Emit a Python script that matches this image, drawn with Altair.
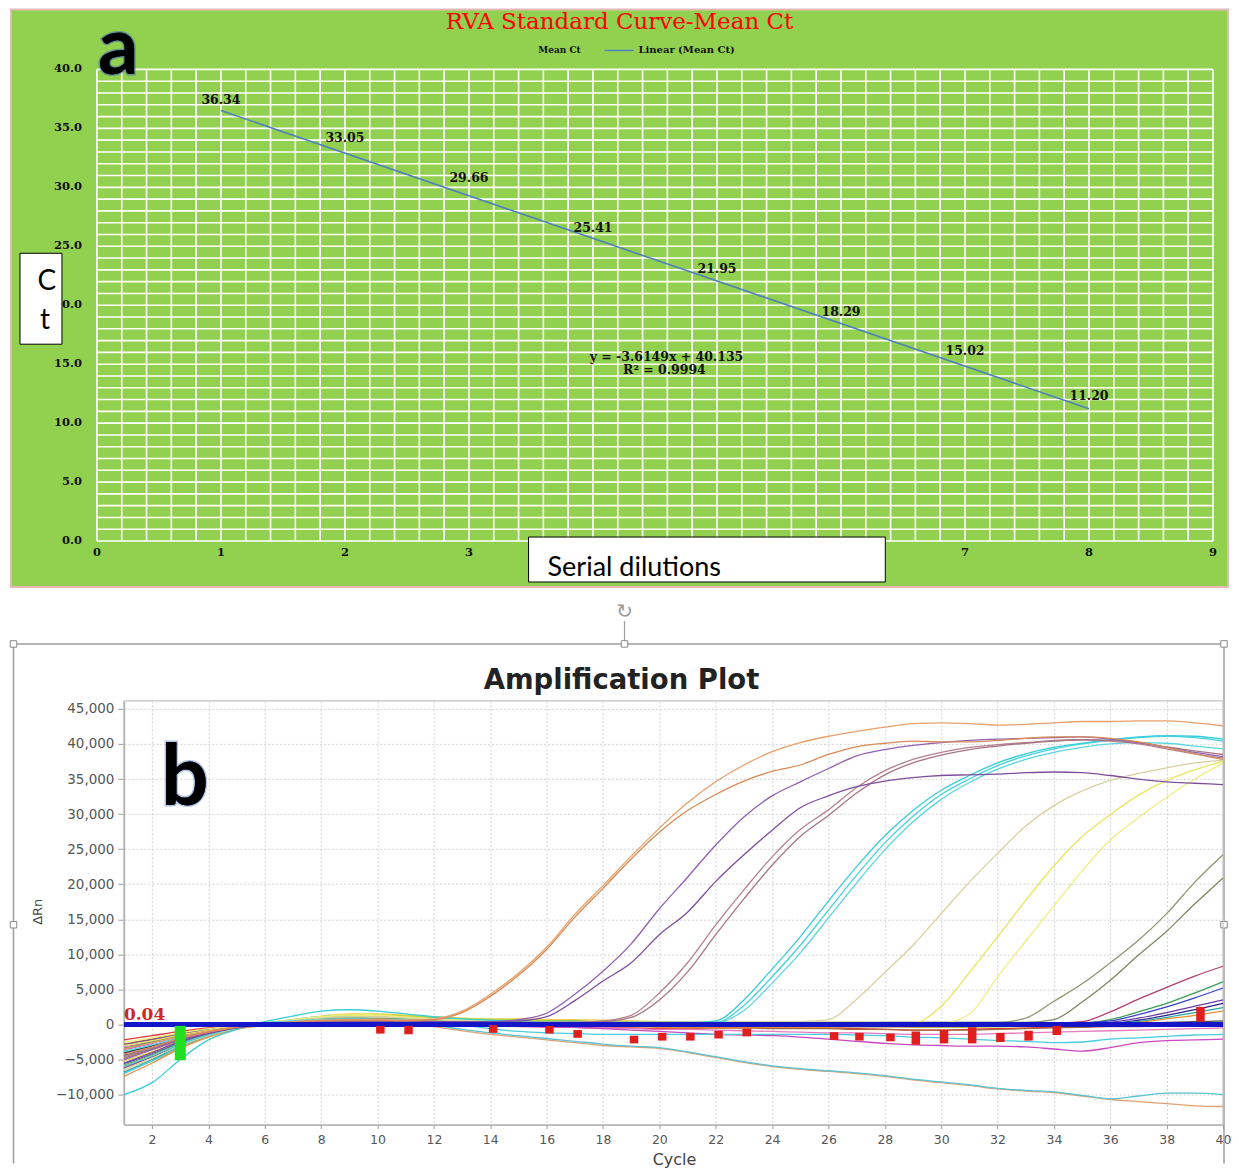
import altair as alt
import pandas as pd

# ======================= Panel a data =======================
DILUTIONS = [1, 2, 3, 4, 5, 6, 7, 8]
MEAN_CT = [36.34, 33.05, 29.66, 25.41, 21.95, 18.29, 15.02, 11.20]
CT_LABELS = ["36.34", "33.05", "29.66", "25.41", "21.95", "18.29", "15.02", "11.20"]
# x tick labels 4, 5 and 6 sit under the "Serial dilutions" box in the original
A_XTICKS = [0, 1, 2, 3, 7, 8, 9]
A_XTICK_LABELS = ["0", "1", "2", "3", "7", "8", "9"]
A_YTICKS = [0, 5, 10, 15, 20, 25, 30, 35, 40]
A_YTICK_LABELS = ["0.0", "5.0", "10.0", "15.0", "20.0", "25.0", "30.0", "35.0", "40.0"]
A_TITLE = "RVA Standard Curve-Mean Ct"
EQUATION = "y = -3.6149x + 40.135"
R_SQUARED = "R² = 0.9994"
LEGEND_1 = "Mean Ct"
LEGEND_2 = "Linear (Mean Ct)"

# ======================= Panel b data =======================
CYCLES = list(range(1, 41))
B_XTICKS = [2, 4, 6, 8, 10, 12, 14, 16, 18, 20, 22, 24, 26, 28, 30, 32, 34, 36, 38, 40]
B_YTICKS = [-10000, -5000, 0, 5000, 10000, 15000, 20000, 25000, 30000, 35000, 40000, 45000]

O1 = [-3500,-2600,-1700,-900,-300,100,400,600,700,700,
      600,800,1900,4300,7300,11000,15700,19800,24000,28000,
      31600,34600,37000,38900,40200,41100,41800,42400,42900,43000,
      42900,42700,42800,43000,43200,43200,43300,43300,43000,42600]
O2 = [-4200,-3200,-2000,-1100,-400,0,300,500,600,600,
      500,700,1700,4000,7000,10700,15300,19400,23600,27400,
      30500,32800,34700,36100,37000,38500,39600,40100,40400,40300,
      40300,40500,40800,41000,41000,40800,40300,39500,38600,37800]
P1 = [-5000,-3600,-2200,-1200,-500,0,300,500,600,500,
      400,400,400,400,700,1600,4300,7600,11500,16500,
      21000,25600,29600,32600,34600,36500,38300,39200,39800,40200,
      40500,40700,40800,40900,41000,40700,40200,39500,38800,38200]
P2 = [-5500,-4000,-2400,-1300,-500,0,300,500,500,500,
      400,400,400,400,500,1100,3400,6200,8800,12800,
      16000,20400,24200,27700,30900,32600,33900,34700,35200,35500,
      35600,35700,35900,36000,35900,35500,35000,34600,34400,34200]
B1 = [-4500,-3300,-2000,-1000,-400,0,200,400,500,500,
      400,300,300,300,300,300,300,500,1300,4500,
      8800,14200,19200,23900,27800,30600,33800,36200,37800,38800,
      39500,39900,40200,40500,40600,40400,40000,39300,38600,38000]
B2 = [-4800,-3500,-2100,-1100,-400,0,200,300,400,400,
      300,300,300,300,300,300,300,400,1000,3500,
      7500,12800,17900,22700,26800,29800,33000,35600,37300,38400,
      39200,39700,40100,40400,40600,40500,40200,39600,39000,38500]
C1 = [-10000,-8300,-5000,-2200,-700,400,1200,1900,2100,1900,
      1500,1100,800,600,400,300,300,200,200,200,
      200,500,3500,7900,12500,17600,22500,26900,30500,33400,
      35500,37300,38600,39500,40100,40600,41000,41200,41100,40700]
C2 = [-6000,-4500,-2800,-1500,-500,200,500,700,700,600,
      500,400,300,300,300,300,300,300,300,300,
      300,300,2700,6800,11300,16300,21300,25900,29700,32800,
      35000,36900,38300,39300,40000,40500,40900,41100,40900,40400]
C3 = [-3800,-2900,-1900,-1000,-300,200,500,700,800,700,
      600,400,300,300,200,200,200,200,200,200,
      200,200,2000,5900,10200,15200,20200,24900,28900,32100,
      34500,36400,37800,38800,39500,40000,40200,40100,39700,39300]
K1 = [-6500,-4800,-3000,-1600,-600,100,500,900,1100,1100,
      900,700,500,400,400,300,300,300,300,300,
      300,300,300,300,400,700,3600,7400,11300,15800,
      20300,24400,28300,31200,33300,34800,35800,36600,37300,37700]
Y1 = [-3000,-2300,-1500,-800,-200,200,600,1000,1300,1300,
      1100,800,600,500,400,400,300,300,300,300,
      300,300,300,300,300,300,300,200,200,2600,
      7400,12500,17700,22600,26800,29900,32700,34800,36300,37500]
Y2 = [-2500,-1900,-1200,-600,-100,300,700,1100,1400,1300,
      1000,800,600,500,400,400,300,300,300,300,
      300,300,300,300,300,300,300,300,200,200,
      1500,6800,11900,16900,21900,26300,29500,32400,35000,37300]
G1 = [-5800,-4300,-2700,-1400,-500,100,400,700,800,700,
      600,500,400,300,300,300,300,300,300,300,
      300,300,300,300,300,300,300,300,300,300,
      300,300,900,3300,5800,8800,12000,15800,20300,24200]
G2 = [-4600,-3400,-2100,-1100,-400,100,400,600,700,600,
      500,400,300,300,300,300,300,300,300,300,
      300,300,300,300,300,300,300,300,300,300,
      300,300,300,700,3200,6300,9900,13300,17200,20900]
L1 = [-6200,-4600,-2800,-1400,-500,0,300,500,600,500,
      400,300,200,200,200,100,100,100,100,100,
      100,100,100,100,100,100,100,100,100,100,
      100,100,100,200,400,1800,3600,5300,6900,8300]
L2 = [-3400,-2500,-1600,-800,-200,200,500,800,900,800,
      600,400,300,200,200,100,100,100,100,100,
      100,100,100,100,100,100,100,100,100,100,
      100,100,100,100,200,700,1800,3000,4500,6100]
L3 = [-5600,-4200,-2600,-1300,-500,0,400,600,700,700,
      500,400,300,200,100,100,0,0,0,0,
      0,0,0,0,0,0,0,0,0,0,
      0,0,0,100,200,500,1400,2500,3800,5200]
L4 = [-2900,-2200,-1400,-700,-200,100,300,500,500,400,
      300,200,100,100,0,0,0,0,0,0,
      0,0,0,0,0,0,0,0,0,0,
      0,0,0,0,100,300,900,1700,2600,3500]
L5 = [-4100,-3100,-1900,-1000,-300,100,400,500,600,500,
      400,300,200,100,100,0,0,0,0,0,
      0,0,0,0,0,0,0,0,0,0,
      0,0,0,0,0,100,600,1300,2100,3000]
L6 = [-6800,-5000,-3100,-1600,-600,0,400,700,900,900,
      800,600,500,400,300,200,200,100,100,100,
      0,0,0,0,0,0,0,0,0,0,
      0,0,0,100,100,200,400,1000,1700,2400]
L7 = [-7400,-5500,-3400,-1800,-700,-100,300,600,800,800,
      700,500,300,200,100,0,-100,-200,-300,-400,
      -500,-500,-500,-400,-400,-400,-300,-300,-300,-200,
      -200,-100,0,0,100,100,300,800,1300,1900]
BL1 = [-2200,-1600,-1000,-500,-200,0,200,300,400,400,
       300,200,100,0,-200,-300,-400,-500,-500,-600,
       -600,-500,-500,-400,-400,-500,-600,-700,-800,-800,
       -700,-600,-500,-400,-300,-200,-100,0,100,200]
BL2 = [-4000,-3000,-1900,-1000,-300,200,600,1000,1200,1300,
       1200,1000,800,700,600,500,500,400,400,300,
       300,200,200,100,100,0,0,-100,-200,-200,
       -300,-300,-200,-100,0,0,100,100,200,300]
BL3 = [-5200,-3900,-2500,-1300,-400,200,700,1200,1500,1500,
       1300,1100,900,800,800,700,700,600,500,400,
       300,200,100,0,-100,-200,-300,-300,-400,-400,
       -400,-300,-300,-200,-100,0,0,100,100,200]
BL4 = [-3200,-2400,-1500,-800,-200,100,300,500,600,500,
       400,200,0,-200,-300,-400,-400,-500,-600,-700,
       -700,-800,-900,-1000,-1100,-1200,-1200,-1300,-1400,-1400,
       -1400,-1300,-1200,-1100,-1000,-900,-800,-700,-600,-500]
BL5 = [-3600,-2700,-1700,-900,-300,100,300,500,600,500,
       400,200,0,-100,-200,-300,-400,-600,-800,-1000,
       -1200,-1400,-1500,-1600,-1800,-2100,-2400,-2700,-2900,-3000,
       -3100,-3100,-3200,-3500,-3800,-3300,-2600,-2300,-2200,-2100]
BL6 = [-7000,-5200,-3300,-1700,-600,100,700,1100,1300,1200,
       900,500,-100,-600,-1000,-1200,-1300,-1400,-1400,-1400,
       -1400,-1400,-1400,-1400,-1400,-1400,-1500,-1600,-1800,-1900,
       -2100,-2300,-2400,-2600,-2500,-2100,-1900,-1700,-1500,-1400]
BL7 = [-4400,-3300,-2100,-1100,-400,0,300,400,500,500,
       400,300,200,100,100,0,0,0,-100,-100,
       -100,-200,-200,-200,-200,-300,-300,-300,-300,-300,
       -300,-200,-200,-100,0,100,200,300,400,500]
BL8 = [-6000,-4500,-2900,-1500,-600,0,500,900,1200,1300,
       1200,1000,800,700,600,500,400,300,200,200,
       100,100,0,0,-100,-100,-200,-200,-200,-300,
       -300,-300,-200,-200,-100,-100,0,0,100,100]
BL9 = [-2800,-2100,-1300,-700,-200,100,300,400,400,400,
       300,200,100,100,0,0,-100,-100,-200,-300,
       -400,-500,-500,-600,-600,-600,-700,-700,-800,-800,
       -800,-700,-600,-500,-400,-300,-300,-200,-200,-100]
D1 = [-4800,-3600,-2300,-1200,-400,100,500,700,700,500,
      200,-300,-900,-1400,-1800,-2200,-2600,-3000,-3200,-3400,
      -4000,-4700,-5400,-6000,-6400,-6700,-7000,-7400,-7900,-8300,
      -8700,-9200,-9500,-9700,-10200,-10700,-11000,-11300,-11600,-11700]
D2 = [-6200,-4600,-2900,-1500,-500,100,600,900,1000,800,
      400,-100,-700,-1200,-1600,-2000,-2400,-2800,-3100,-3300,
      -3900,-4600,-5300,-5900,-6300,-6600,-6900,-7300,-7800,-8200,
      -8600,-9100,-9400,-9600,-10100,-10600,-10200,-9800,-9800,-10000]

CURVES = {
    "BL1": BL1, "BL2": BL2, "BL3": BL3, "BL4": BL4, "BL5": BL5, "BL6": BL6,
    "BL7": BL7, "BL8": BL8, "BL9": BL9, "D1": D1, "D2": D2,
    "L1": L1, "L2": L2, "L3": L3, "L4": L4, "L5": L5, "L6": L6, "L7": L7,
    "G1": G1, "G2": G2, "Y1": Y1, "Y2": Y2, "K1": K1,
    "C1": C1, "C2": C2, "C3": C3, "B1": B1, "B2": B2,
    "P1": P1, "P2": P2, "O1": O1, "O2": O2,
}
CURVE_COLORS = {
    "BL1": "#E03838", "BL2": "#38B040", "BL3": "#E8D040", "BL4": "#E878C0",
    "BL5": "#C848C0", "BL6": "#48CCE0", "BL7": "#505050", "BL8": "#A8D848",
    "BL9": "#A86840", "D1": "#E0A070", "D2": "#58C4D4",
    "L1": "#B04070", "L2": "#3C9C58", "L3": "#3A44CC", "L4": "#6C3CA8",
    "L5": "#24248C", "L6": "#2AA8A0", "L7": "#E89038",
    "G1": "#8C9870", "G2": "#7C8A62", "Y1": "#E6E65C", "Y2": "#EEEE80",
    "K1": "#D8D0A0", "C1": "#38CCD8", "C2": "#45D2DC", "C3": "#5AD6E0",
    "B1": "#B48090", "B2": "#A87585", "P1": "#9060B0", "P2": "#7D4E9C",
    "O1": "#E8A06A", "O2": "#D98B56",
}
THRESHOLD = [0]
THRESHOLD_LABEL = "0.04"
MARK_CYCLE = [10.1, 11.1, 14.1, 16.1, 17.1, 19.1, 20.1, 21.1, 22.1, 23.1,
              26.2, 27.1, 28.2, 29.1, 30.1, 31.1, 32.1, 33.1, 34.1, 39.2]
MARK_LO = [-1300, -1400, -1200, -1300, -1900, -2700, -2300, -2300, -2000, -1700,
           -2200, -2300, -2400, -2900, -2700, -2700, -2500, -2300, -1500, 400]
MARK_HI = [-200, -200, -100, -200, -800, -1600, -1200, -1200, -900, -600,
           -1100, -1200, -1300, -1000, -800, -400, -1200, -900, -200, 2500]
BASE_CYCLE = [3]
BASE_LO = [-5100]
BASE_HI = [-200]
B_TITLE = "Amplification Plot"

# ======================= layout (page pixels) =======================
A_X0_PAGE, A_X9_PAGE = 95, 1212        # where Serial dilution 0 and 9 fall
A_TOP, A_BOTTOM = 69, 541
B_LEFT, B_RIGHT, B_TOP, B_BOTTOM = 122, 1222, 701, 1125
A_LEFT = B_LEFT                         # both plots share the same left edge
A_UNIT = (A_X9_PAGE - A_X0_PAGE) / 9.0
A_DOMAIN_START = (A_LEFT - A_X0_PAGE) / A_UNIT

ONE = pd.DataFrame({"k": [0]})


def ax(p):
    return p - A_LEFT


def ay(p):
    return p - A_TOP


def bx(p):
    return p - B_LEFT


def by(p):
    return p - B_TOP


def txt(text, x, y, **kw):
    return alt.Chart(ONE).mark_text(text=text, **kw).encode(x=alt.value(x), y=alt.value(y))


def box(x1, x2, y1, y2, **kw):
    return alt.Chart(ONE).mark_rect(**kw).encode(
        x=alt.value(x1), x2=alt.value(x2), y=alt.value(y1), y2=alt.value(y2))


def seg(x1, x2, y1, y2, **kw):
    return alt.Chart(ONE).mark_rule(**kw).encode(
        x=alt.value(x1), x2=alt.value(x2), y=alt.value(y1), y2=alt.value(y2))


def handle(x, y):
    return alt.Chart(ONE).mark_square(size=42, fill="white", stroke="#8a8a8a",
                                      strokeWidth=1, opacity=1).encode(
        x=alt.value(x), y=alt.value(y))


# ======================= Panel a =======================
WA, HA = A_X9_PAGE - A_LEFT, A_BOTTOM - A_TOP
XS_A = alt.Scale(domain=[A_DOMAIN_START, 9], nice=False, zero=False)
YS_A = alt.Scale(domain=[0, 40], nice=False, zero=False)

df_a = pd.DataFrame({"dilution": DILUTIONS, "ct": MEAN_CT, "label": CT_LABELS})
grid_x = pd.DataFrame({"gx": [i / 5 for i in range(46)]})
grid_y = pd.DataFrame({"gy": list(range(41))})
ytick_a = pd.DataFrame({"v": A_YTICKS, "lab": A_YTICK_LABELS})
xtick_a = pd.DataFrame({"v": A_XTICKS, "lab": A_XTICK_LABELS})

GREEN = "#92D050"
SERIF = "DejaVu Serif"
INK = "#111"

a_layers = [
    box(ax(9), ax(1227), ay(9), ay(587), fill=GREEN, stroke="#E6B8B7", strokeWidth=2),
    alt.Chart(grid_x).mark_rule(color="white", strokeWidth=1.6).encode(
        x=alt.X("gx:Q", scale=XS_A, axis=None),
        y=alt.value(0), y2=alt.value(HA)),
    alt.Chart(grid_y).mark_rule(color="white", strokeWidth=1.6).encode(
        y=alt.Y("gy:Q", scale=YS_A, axis=None),
        x=alt.value(ax(A_X0_PAGE)), x2=alt.value(WA)),
    alt.Chart(df_a).transform_regression("dilution", "ct").mark_line(
        color="#4F81BD", strokeWidth=1.6).encode(
        x=alt.X("dilution:Q", scale=XS_A, axis=None),
        y=alt.Y("ct:Q", scale=YS_A, axis=None)),
    alt.Chart(df_a).mark_text(dy=-13, font=SERIF, fontWeight="bold", fontSize=12.5,
                              color=INK).encode(
        x=alt.X("dilution:Q", scale=XS_A, axis=None),
        y=alt.Y("ct:Q", scale=YS_A, axis=None),
        text="label:N"),
    alt.Chart(ytick_a).mark_text(align="right", baseline="middle", font=SERIF,
                                 fontWeight="bold", fontSize=11.5, color=INK).encode(
        y=alt.Y("v:Q", scale=YS_A, axis=None), x=alt.value(ax(80)), text="lab:N"),
    alt.Chart(xtick_a).mark_text(align="center", baseline="middle", font=SERIF,
                                 fontWeight="bold", fontSize=11.5, color=INK).encode(
        x=alt.X("v:Q", scale=XS_A, axis=None), y=alt.value(ay(553)), text="lab:N"),
    txt(EQUATION, ax(665), ay(357), font=SERIF, fontWeight="bold", fontSize=12.5,
        color=INK, align="center", baseline="middle"),
    txt(R_SQUARED, ax(663), ay(370), font=SERIF, fontWeight="bold", fontSize=12.5,
        color=INK, align="center", baseline="middle"),
    txt(A_TITLE, ax(618), ay(22), font=SERIF, fontSize=23, color="#FF0000",
        align="center", baseline="middle"),
    txt(LEGEND_1, ax(558), ay(50), font=SERIF, fontWeight="bold", fontSize=9,
        color=INK, align="center", baseline="middle"),
    seg(ax(603), ax(632), ay(50), ay(50), color="#4F81BD", strokeWidth=1.5),
    txt(LEGEND_2, ax(637), ay(50), font=SERIF, fontWeight="bold", fontSize=10,
        color=INK, align="left", baseline="middle"),
    txt("a", ax(96), ay(11), font="Lato", fontWeight="bold", fontSize=80, color="#000",
        stroke="#3A66C0", strokeWidth=3, strokeOpacity=0.55,
        align="left", baseline="top"),
    txt("a", ax(96), ay(11), font="Lato", fontWeight="bold", fontSize=80, color="#000",
        align="left", baseline="top"),
    box(ax(18), ax(60), ay(253), ay(344), fill="white", stroke="black", strokeWidth=1),
    txt("C", ax(45), ay(282), font="Lato", fontSize=28, color="#000",
        align="center", baseline="middle"),
    txt("t", ax(43), ay(321), font="Lato", fontSize=28, color="#000",
        align="center", baseline="middle"),
    box(ax(527), ax(884), ay(537), ay(582), fill="white", stroke="black", strokeWidth=1),
    txt("Serial dilutions", ax(546), ay(576), font="Lato", fontSize=27, color="#000",
        align="left", baseline="alphabetic"),
]
panel_a = alt.layer(*a_layers).properties(width=WA, height=HA)

# ======================= Panel b =======================
WB, HB = B_RIGHT - B_LEFT, B_BOTTOM - B_TOP
XS_B = alt.Scale(domain=[1, 40], nice=False, zero=False)
YS_B = alt.Scale(domain=[-14275, 46140], nice=False, zero=False)

AX_BX = alt.Axis(values=B_XTICKS, title=None, grid=True, gridDash=[2, 2],
                 gridColor="#d2d2d2", domain=True, domainColor="#9a9a9a",
                 domainWidth=1.5, ticks=True, tickColor="#9a9a9a", tickSize=4,
                 labelColor="#555", labelFont="DejaVu Sans", labelFontSize=12.5,
                 labelPadding=5, labelFlush=False)
AX_BY = alt.Axis(values=B_YTICKS, format=",.0f", title=None, grid=True,
                 gridDash=[2, 2], gridColor="#d2d2d2", domain=True,
                 domainColor="#9a9a9a", domainWidth=1.5, ticks=True,
                 tickColor="#9a9a9a", tickSize=6, labelColor="#555",
                 labelFont="DejaVu Sans", labelFontSize=13.5, labelPadding=4,
                 labelFlush=False)

order = list(CURVES.keys())
rows = []
for name in order:
    for c, v in zip(CYCLES, CURVES[name]):
        rows.append({"curve": name, "cycle": c, "drn": v})
df_b = pd.DataFrame(rows)
df_thr = pd.DataFrame({"t": THRESHOLD})
df_mark = pd.DataFrame({"c": MARK_CYCLE, "lo": MARK_LO, "hi": MARK_HI})
df_base = pd.DataFrame({"c": BASE_CYCLE, "lo": BASE_LO, "hi": BASE_HI})

FR = "#9c9c9c"
FL, FRX, FT, FB = 11.5, 1223, 644, 1164
b_layers = [
    seg(bx(FL), bx(FL), by(FT), by(FB), color=FR, strokeWidth=1.5),
    seg(bx(FL), bx(FRX), by(FT), by(FT), color=FR, strokeWidth=1.5),
    seg(bx(FRX), bx(FRX), by(FT), by(FB), color=FR, strokeWidth=1.5),
    seg(bx(623), bx(623), by(621), by(FT), color=FR, strokeWidth=1.2),
    txt("↻", bx(623), by(612), font="DejaVu Sans", fontSize=20, color="#9a9a9a",
        align="center", baseline="middle"),
    handle(bx(FL), by(FT)), handle(bx(623), by(FT)), handle(bx(FRX), by(FT)),
    handle(bx(FL), by(925)), handle(bx(FRX), by(925)),
    box(0, WB, 0, HB, fillOpacity=0, stroke="#c4c4c4", strokeWidth=1.2),
    alt.Chart(df_b).mark_line(strokeWidth=1.3, interpolate="monotone", clip=True).encode(
        x=alt.X("cycle:Q", scale=XS_B, axis=AX_BX),
        y=alt.Y("drn:Q", scale=YS_B, axis=AX_BY),
        color=alt.Color("curve:N", scale=alt.Scale(domain=order,
                        range=[CURVE_COLORS[n] for n in order]), legend=None)),
    alt.Chart(df_thr).mark_rule(color="#1414C8", strokeWidth=5).encode(
        y=alt.Y("t:Q", scale=YS_B, axis=AX_BY)),
    alt.Chart(df_mark).mark_rule(color="#E01E1E", strokeWidth=8.5).encode(
        x=alt.X("c:Q", scale=XS_B, axis=AX_BX),
        y=alt.Y("lo:Q", scale=YS_B, axis=AX_BY), y2="hi:Q"),
    alt.Chart(df_base).mark_rule(color="#22DD22", strokeWidth=11).encode(
        x=alt.X("c:Q", scale=XS_B, axis=AX_BX),
        y=alt.Y("lo:Q", scale=YS_B, axis=AX_BY), y2="hi:Q"),
    txt(THRESHOLD_LABEL, bx(122), by(1015), font=SERIF, fontWeight="bold", fontSize=17,
        color="#CC2A2A", align="left", baseline="middle"),
    txt("b", bx(159), by(805), font="Lato", fontWeight="bold", fontSize=84, color="#000",
        stroke="#3A66C0", strokeWidth=3, strokeOpacity=0.4,
        align="left", baseline="alphabetic"),
    txt("b", bx(159), by(805), font="Lato", fontWeight="bold", fontSize=84, color="#000",
        align="left", baseline="alphabetic"),
    txt(B_TITLE, bx(620), by(681), font="DejaVu Sans", fontWeight="bold", fontSize=27.5,
        color="#222", align="center", baseline="middle"),
    txt("ΔRn", bx(36), by(912), font="DejaVu Sans", fontSize=13, color="#444",
        angle=270, align="center", baseline="middle"),
    txt("Cycle", bx(673), by(1160), font="DejaVu Sans", fontSize=16, color="#444",
        align="center", baseline="middle"),
]
panel_b = alt.layer(*b_layers).properties(width=WB, height=HB)

chart = alt.concat(panel_a, panel_b, columns=1, spacing=14).properties(
    padding=0, background="white").configure_view(stroke=None)

chart.save("out.html", embed_options={"renderer": "svg", "actions": False})
